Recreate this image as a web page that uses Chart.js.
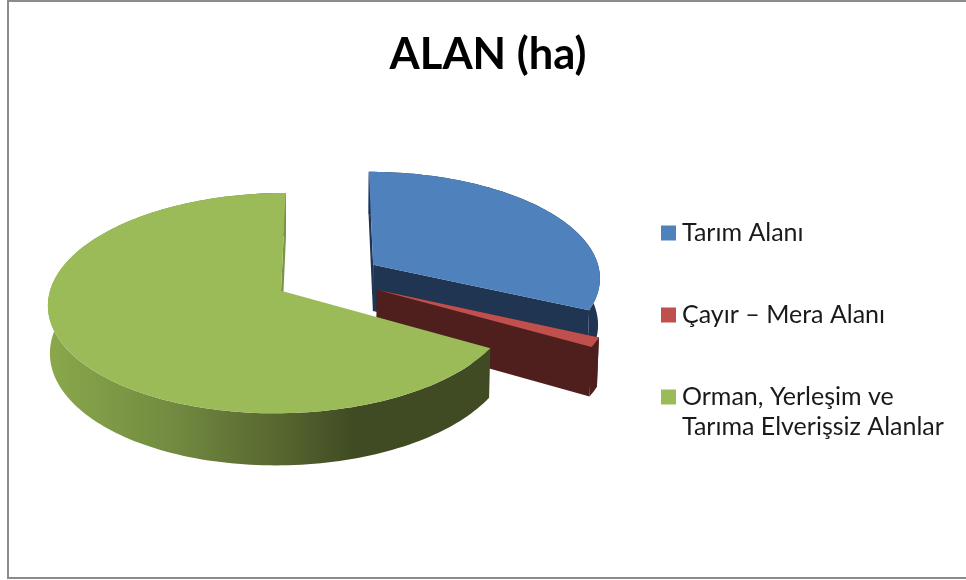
<!DOCTYPE html>
<html>
<head>
<meta charset="utf-8">
<title>ALAN (ha)</title>
<script src="https://cdn.jsdelivr.net/npm/chart.js@4"></script>
<style>
  body { margin: 0; background: #fff; }
  #wrap { position: relative; width: 966px; height: 580px; overflow: hidden; }
  #frame { position: absolute; left: 7px; top: 0; right: -4px; height: 575px;
           border: 2px solid #8c8c8c; pointer-events: none; }
</style>
</head>
<body>
<div id="wrap">
  <canvas id="myChart" width="966" height="580"></canvas>
  <div id="frame"></div>
</div>
<script>
const categories = ["Tarım Alanı", "Çayır – Mera Alanı", ["Orman, Yerleşim ve", "Tarıma Elverişsiz Alanlar"]];
const areaValues = [31.9, 1.4, 66.7];
const topColors = ["#4f81bd", "#c0504d", "#9bbb59"];
const sideColors = ["#1f3552", "#4f1f1d", "#404b23"];
const flatColors = ["#1f3552", "#4f1f1d", "#7a9645"];

// look of the tilted pie, in pixels
const pieWidth = 228;
const pieHeight = 106;
const pieDepth = 47;
const perspective = 0.11;
const depthSink = 0.007;

// turns a point of the pie plane (radius = 1) into a canvas point
function project(arc, u, v, h) {
  const w = 1 - perspective * v + depthSink * h;
  return {
    x: arc.x + (pieWidth * u) / w,
    y: arc.y + (pieHeight * v + pieDepth * h) / w,
  };
}

function tracePoints(ctx, points) {
  ctx.beginPath();
  points.forEach((p, i) => (i ? ctx.lineTo(p.x, p.y) : ctx.moveTo(p.x, p.y)));
  ctx.closePath();
}

function rimPoints(arc, ox, oy, h) {
  const points = [];
  const steps = Math.max(2, Math.ceil((arc.endAngle - arc.startAngle) * 40));
  for (let i = 0; i <= steps; i++) {
    const a = arc.startAngle + ((arc.endAngle - arc.startAngle) * i) / steps;
    points.push(project(arc, Math.cos(a) + ox, Math.sin(a) + oy, h));
  }
  return points;
}

function returnGreenSide(ctx, top) {
  const xs = top.map((p) => p.x);
  const gradient = ctx.createLinearGradient(Math.min(...xs), 0, Math.max(...xs), 0);
  gradient.addColorStop(0, "#8aa84b");
  gradient.addColorStop(0.27, "#738c41");
  gradient.addColorStop(0.57, "#515f2d");
  gradient.addColorStop(0.69, sideColors[2]);
  gradient.addColorStop(1, sideColors[2]);
  return gradient;
}

function drawSlice(ctx, arc, index) {
  const offset = arc.options.offset / arc.outerRadius;
  const mid = (arc.startAngle + arc.endAngle) / 2;
  const ox = offset * Math.cos(mid);
  const oy = offset * Math.sin(mid);
  const top = rimPoints(arc, ox, oy, 0);
  const bottom = rimPoints(arc, ox, oy, 1);
  const apexTop = project(arc, ox, oy, 0);
  const apexBottom = project(arc, ox, oy, 1);
  const last = top.length - 1;

  // rim first, then the flat walls, the top face goes over them
  ctx.fillStyle = index === 2 ? returnGreenSide(ctx, top) : sideColors[index];
  tracePoints(ctx, top.concat(bottom.slice().reverse()));
  ctx.fill();

  ctx.fillStyle = flatColors[index];
  if (index !== 2) {
    tracePoints(ctx, [apexTop, top[0], bottom[0], apexBottom]);
    ctx.fill();
  }
  tracePoints(ctx, [apexTop, top[last], bottom[last], apexBottom]);
  ctx.fill();

  ctx.fillStyle = topColors[index];
  tracePoints(ctx, [apexTop].concat(top));
  ctx.fill();
}

const tiltedPie = {
  id: "tiltedPie",
  afterLayout(chart) {
    // title and legend sit on their own spots of the frame
    chart.titleBlock.left = 10;
    chart.titleBlock.right = 966;
    const legend = chart.legend;
    const padding = legend.options.labels.padding;
    legend.left = 667.5 - padding;
    legend.top = 220.5 - padding;
    legend.bottom = 570;
  },
  beforeDatasetDraw(chart, args) {
    const arcs = chart.getDatasetMeta(args.index).data;
    arcs.forEach((arc, i) => drawSlice(chart.ctx, arc, i));
    return false;
  },
};

function chart() {
  const ctx = document.getElementById("myChart");
  new Chart(ctx, {
    type: "pie",
    data: {
      labels: categories,
      datasets: [
        {
          data: areaValues,
          backgroundColor: topColors,
          borderWidth: 0,
          radius: 169,
          offset: 40,
        },
      ],
    },
    options: {
      responsive: false,
      animation: false,
      layout: { padding: { left: 34, bottom: 115 } },
      plugins: {
        title: {
          display: true,
          text: "ALAN (ha)",
          color: "#000",
          font: { family: "Lato", size: 43.5, weight: "bold" },
          padding: { top: 29, bottom: 10 },
        },
        legend: {
          position: "right",
          align: "start",
          labels: {
            usePointStyle: true,
            pointStyle: "rect",
            boxWidth: 2,
            boxHeight: 15,
            padding: 57,
            color: "#1a1a1a",
            font: { family: "Lato", size: 25, lineHeight: 1.2 },
          },
        },
        tooltip: { enabled: false },
      },
    },
    plugins: [tiltedPie],
  });
}

chart();
</script>
</body>
</html>
